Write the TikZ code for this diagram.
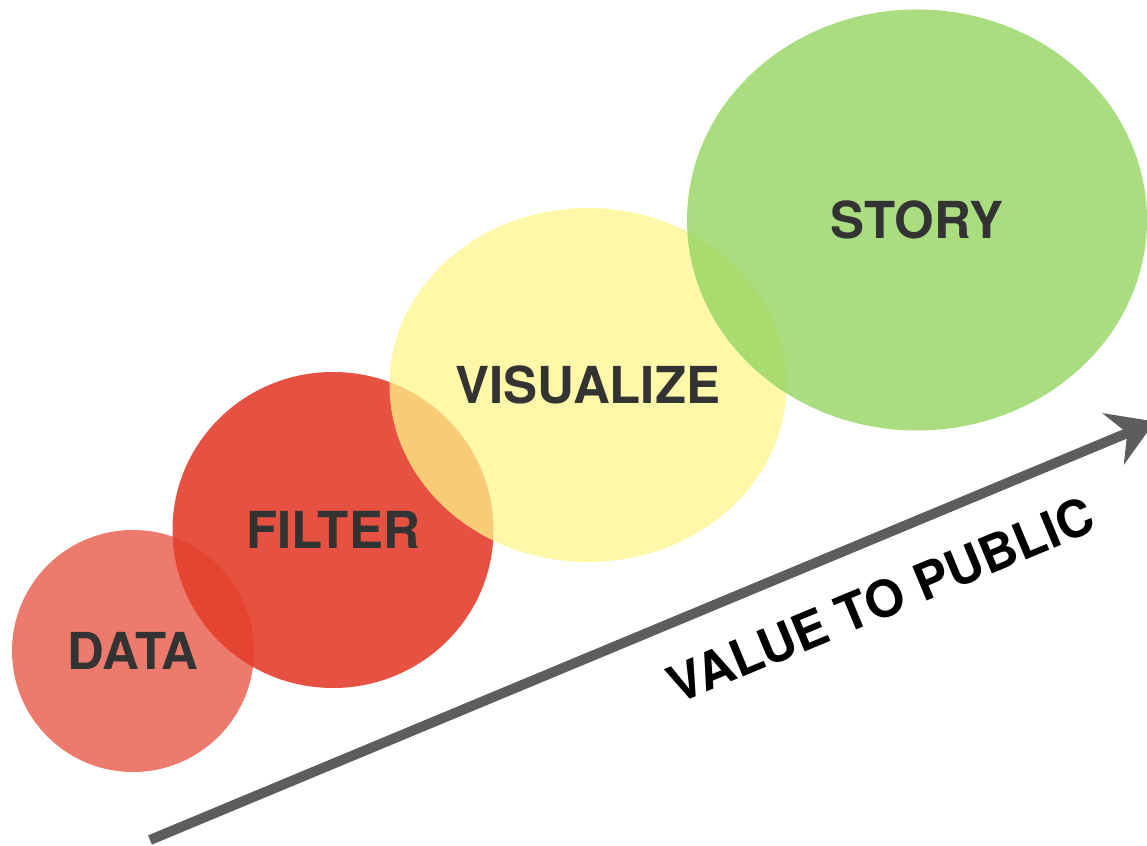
\documentclass[tikz,border=0pt]{standalone}
\usepackage{fontspec}
\setmainfont{TeX Gyre Heros}
\usetikzlibrary{shapes.geometric,arrows.meta}
\definecolor{datared}{RGB}{228,62,44}
\definecolor{filterred}{RGB}{228,62,44}
\definecolor{visyellow}{RGB}{255,246,139}
\definecolor{storygreen}{RGB}{148,212,96}
\definecolor{labelgrey}{RGB}{51,51,51}
\definecolor{arrowgrey}{RGB}{93,93,93}
\tikzset{
    stage/.style={ellipse, inner sep=0pt, text=labelgrey, text opacity=1,
        font=\fontsize{29}{31}\selectfont\bfseries},
    valuearrow/.style={arrowgrey, line width=0.2cm,
        -{Stealth[length=0.9cm, width=1.1cm, inset=0.3cm]}}
}
\begin{document}
\begin{tikzpicture}[scale=1]
    \useasboundingbox (0,0) rectangle (22.94,16.92);
    % Stages
    \foreach \n/\x/\y/\w/\h/\c/\o/\l in {
        data/2.66/3.90/4.84/4.84/datared/0.69/DATA,
        filter/6.66/6.32/6.42/6.32/filterred/0.9/FILTER,
        visualize/11.76/9.22/7.94/7.08/visyellow/0.75/VISUALIZE,
        story/18.34/12.52/9.2/8.42/storygreen/0.8/STORY}
        \node[stage, fill=\c, fill opacity=\o, minimum width=\w cm, minimum height=\h cm] (\n) at (\x,\y) {\l};
    % Value axis
    \coordinate (tail) at (3.0,0.12);
    \coordinate (head) at (23.1,8.49);
    \draw[valuearrow] (tail) -- (head);
    \node[rotate=22.6, font=\fontsize{29}{31}\selectfont\bfseries] (value) at (17.62,4.92) {VALUE TO PUBLIC};
\end{tikzpicture}
\end{document}
